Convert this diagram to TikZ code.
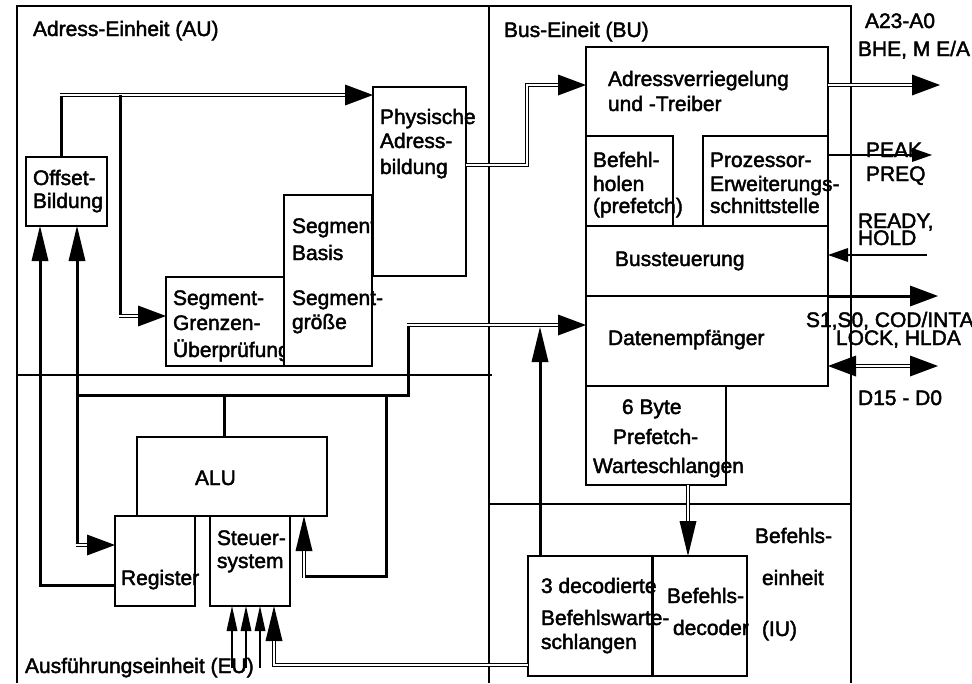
\documentclass[tikz,border=0pt]{standalone}
\usepackage{fontspec}
\setmainfont[FakeBold=2]{Liberation Sans}
\usetikzlibrary{arrows.meta}

\begin{document}
\begin{tikzpicture}[x=1pt,y=-1pt,
  frame/.style={line width=1.2pt},
  blk/.style={draw, line width=1.2pt, fill=white, rectangle, inner sep=0pt, outer sep=0pt, anchor=north west},
  lbl/.style={anchor=base west, inner sep=0pt, outer sep=0pt, font=\fontsize{21}{24}\selectfont},
  wire/.style={line width=3pt, line join=miter},
  thinwire/.style={line width=1.3pt},
  tipH/.style={-{Triangle[length=28pt,width=21pt,line width=0pt]}},
  tipV/.style={-{Triangle[length=35pt,width=17pt,line width=0pt]}},
  tipS/.style={-{Triangle[length=20pt,width=14pt,line width=0pt]}},
  tipT/.style={-{Triangle[length=25pt,width=11pt,line width=0pt]}},
  busline/.style={line width=4.6pt, line join=miter},
  busH/.style={busline, tipH, postaction={draw=white, line width=1.6pt, -, shorten >=28pt}},
  busV/.style={busline, tipV, postaction={draw=white, line width=1.6pt, -, shorten >=35pt}},
  busBoth/.style={busline, {Triangle[length=28pt,width=21pt,line width=0pt]}-{Triangle[length=28pt,width=21pt,line width=0pt]},
    postaction={draw=white, line width=1.6pt, -, shorten >=28pt, shorten <=28pt}},
]
\useasboundingbox (0,0) rectangle (972,683);

% unit frames
\draw[frame] (17,683) -- (17,6) -- (851,6) -- (851,683);
\draw[frame] (489,6) -- (489,683);
\draw[frame] (17,375) -- (492,375);
\draw[frame] (489,504) -- (852,504);

\node[lbl] (tAU) at (33,36) {Adress-Einheit (AU)};
\node[lbl] (tBU) at (504,37) {Bus-Eineit (BU)};
\node[lbl] (tEU) at (25,673) {Ausführungseinheit (EU)};

% address unit
\node[blk, minimum width=81pt, minimum height=69pt] (offset) at (26,157) {};
\node[lbl] (off1) at (33,185) {Offset-};
\node[lbl] (off2) at (33,208) {Bildung};

\node[blk, minimum width=118pt, minimum height=89pt] (grenz) at (166,277) {};
\node[lbl] (gr1) at (173,305) {Segment-};
\node[lbl] (gr2) at (173,330) {Grenzen-};
\node[lbl] (gr3) at (173,357) {Überprüfung};

\node[blk, minimum width=88pt, minimum height=171pt] (basis) at (284,195) {};
\node[lbl] (ba1) at (292,233) {Segment};
\node[lbl] (ba2) at (292,260) {Basis};
\node[lbl] (ba3) at (292,305) {Segment-};
\node[lbl] (ba4) at (292,329) {größe};

\node[blk, minimum width=93pt, minimum height=189pt] (phys) at (373,87) {};
\node[lbl] (ph1) at (380,124) {Physische};
\node[lbl] (ph2) at (380,148) {Adress-};
\node[lbl] (ph3) at (380,174) {bildung};

% execution unit
\node[blk, minimum width=190pt, minimum height=79pt] (alu) at (137,437) {};
\node[lbl] (alut) at (195,485) {ALU};
\node[blk, minimum width=80pt, minimum height=90pt] (reg) at (115,516) {};
\node[lbl] (regt) at (121,585) {Register};
\node[blk, minimum width=80pt, minimum height=90pt] (steuer) at (210,516) {};
\node[lbl] (st1) at (217,545) {Steuer-};
\node[lbl] (st2) at (217,568) {system};

% bus unit
\node[blk, minimum width=242pt, minimum height=179pt] (adressv) at (586,47) {};
\node[lbl] (av1) at (608,86) {Adressverriegelung};
\node[lbl] (av2) at (608,111) {und -Treiber};
\node[blk, minimum width=87pt, minimum height=90pt] (befehl) at (586,136) {};
\node[lbl] (bf1) at (593,167) {Befehl-};
\node[lbl] (bf2) at (593,191) {holen};
\node[lbl] (bf3) at (593,213) {(prefetch)};
\node[blk, minimum width=125pt, minimum height=90pt] (proz) at (703,136) {};
\node[lbl] (pz1) at (710,167) {Prozessor-};
\node[lbl] (pz2) at (710,191) {Erweiterungs-};
\node[lbl] (pz3) at (710,213) {schnittstelle};
\node[blk, minimum width=242pt, minimum height=70pt] (busst) at (586,226) {};
\node[lbl] (bst) at (615,266) {Bussteuerung};
\node[blk, minimum width=242pt, minimum height=90pt] (daten) at (586,296) {};
\node[lbl] (dt) at (608,345) {Datenempfänger};
\node[blk, minimum width=140pt, minimum height=99pt] (pref) at (586,386) {};
\node[lbl] (pf1) at (622,414) {6 Byte};
\node[lbl] (pf2) at (613,444) {Prefetch-};
\node[lbl] (pf3) at (593,473) {Warteschlangen};

% instruction unit
\node[blk, minimum width=124pt, minimum height=120pt] (dq) at (528,556) {};
\node[blk, minimum width=95pt, minimum height=120pt] (dec) at (652,556) {};
\node[lbl] (dq1) at (541,593) {3 decodierte};
\node[lbl] (dq2) at (541,625) {Befehlswarte-};
\node[lbl] (dq3) at (541,649) {schlangen};
\node[lbl] (dc1) at (667,603) {Befehls-};
\node[lbl] (dc2) at (673,635) {decoder};
\draw[wire] (dec.north west) -- (dec.south west);
\node[lbl] (iu1) at (755,543) {Befehls-};
\node[lbl] (iu2) at (762,585) {einheit};
\node[lbl] (iu3) at (762,636) {(IU)};

% external signal names
\node[lbl] (sA) at (865,28) {A23-A0};
\node[lbl] (sB) at (858,56) {BHE, M E/A};
\node[lbl] (sP1) at (866,157) {PEAK};
\node[lbl] (sP2) at (866,181) {PREQ};
\node[lbl] (sR1) at (858,228) {READY,};
\node[lbl] (sR2) at (858,245) {HOLD};
\node[lbl] (sS1) at (806,327) {S1,S0, COD/INTA};
\node[lbl] (sS2) at (836,345) {LOCK, HLDA};
\node[lbl] (sD) at (858,405) {D15 - D0};

% address unit paths
\coordinate (k1) at (61,95);
\coordinate (k2) at (120,95);
\coordinate (k3) at (120,316);
\draw[wire] (offset.north -| k1) -- (k1);
\draw[busH] ([xshift=-1.5pt]k1) -- (k1 -| phys.west);
\draw[wire] (k2) -- (k3);
\draw[busH] ([xshift=-1.5pt]k3) -- (k3 -| grenz.west);

\coordinate (k4) at (527,165);
\coordinate (k5) at (527,85);
\draw[busH] (phys.east |- k4) -- (k4) -- (k5) -- (k5 -| adressv.west);

% external connections
\coordinate (o1) at (940,85);
\draw[busH] (o1 -| adressv.east) -- (o1);
\coordinate (o2) at (932,155);
\draw[thinwire, tipS] (o2 -| proz.east) -- (o2);
\coordinate (o3) at (927,255);
\draw[thinwire, tipS] (o3) -- (o3 -| busst.east);
\coordinate (o4) at (938,296);
\draw[wire, tipH] (daten.north east) -- (o4);
\coordinate (o5) at (938,366);
\draw[busBoth] (o5 -| daten.east) -- (o5);

% execution unit bus
\coordinate (e1) at (77,395);
\coordinate (e2) at (408,395);
\coordinate (e3) at (408,325);
\draw[wire] (e1) -- (e2) -- (e3);
\draw[busH] ([xshift=-1.5pt]e3) -- (e3 -| daten.west);
\draw[wire, tipV] (e1) -- (offset.south -| e1);
\coordinate (e4) at (77,545);
\draw[wire] (e1) -- (e4);
\draw[busH] ([xshift=-1.5pt]e4) -- (e4 -| reg.west);
\coordinate (e5) at (40,585);
\draw[wire, tipV] (reg.west |- e5) -- (e5) -- (offset.south -| e5);
\coordinate (e6) at (224,395);
\draw[wire] (e6) -- (e6 |- alu.north);
\coordinate (e7) at (386,395);
\coordinate (e8) at (386,576);
\coordinate (e9) at (304,576);
\draw[wire] (e7) -- (e8) -- (e9);
\draw[busV] ([yshift=-1.5pt]e9) -- (e9 |- alu.south);

% instruction unit paths
\draw[busV] ([xshift=102pt]pref.south west) -- ([xshift=36pt]dec.north west);
\coordinate (i2) at (540,327);
\draw[wire, tipV] (i2 |- dq.north) -- (i2);
\coordinate (i3) at (274,665);
\draw[busV] (dq.west |- i3) -- (i3) -- (i3 |- steuer.south);
\foreach \x/\n in {232/a,246/b,260/c} {
  \coordinate (s\n) at (\x,668);
  \draw[thinwire, tipT] (s\n) -- (s\n |- steuer.south);
}
\end{tikzpicture}
\end{document}
